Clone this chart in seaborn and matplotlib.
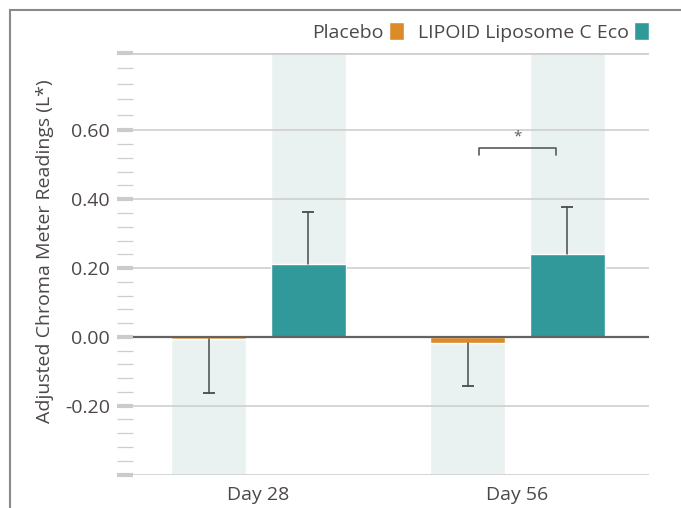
import pandas as pd
import numpy as np
import matplotlib
matplotlib.use("Agg")
import matplotlib.pyplot as plt
from matplotlib.patches import Rectangle
import seaborn as sns

# Données
days = ["Day 28", "Day 56"]
groups = ["Placebo", "LIPOID Liposome C Eco"]
placebo = [-0.007, -0.017]
lipoid = [0.212, 0.241]
placebo_err = [0.157, 0.125]
lipoid_err = [0.151, 0.136]

y_bottom = -0.40
y_top = 0.825
major_ticks = [-0.40, -0.20, 0.00, 0.20, 0.40, 0.60, y_top]
major_labels = ["", "-0.20", "0.00", "0.20", "0.40", "0.60", ""]

orange = "#DB8B29"
teal = "#32999A"
shade = "#EAF2F1"
text_col = "#4d4747"

sns.set_style("white")
plt.rcParams["font.family"] = ["Open Sans", "DejaVu Sans"]

df = pd.DataFrame({
    "day": days * 2,
    "group": [groups[0]] * 2 + [groups[1]] * 2,
    "value": placebo + lipoid,
})
# colonnes de fond (du zéro jusqu'au bord de l'axe)
df_bg = pd.DataFrame({
    "day": days * 2,
    "group": [groups[0]] * 2 + [groups[1]] * 2,
    "value": [y_bottom] * 2 + [y_top] * 2,
})

fig = plt.figure(figsize=(6.81, 5.08), dpi=100)
ax = fig.add_axes([133 / 681, 1 - 474.5 / 508, 516 / 681, 421.5 / 508])

### Fond ###
sns.barplot(data=df_bg, x="day", y="value", hue="group", hue_order=groups,
            palette=[shade, shade], saturation=1, width=0.77, gap=0.25,
            errorbar=None, legend=False, ax=ax, zorder=0.2)

# lignes de grille
for v in major_ticks:
    if v == 0:
        continue
    ax.axhline(v, color="#d0cece", lw=2 if v == y_top else 1.2, zorder=0.5)

### Barres ###
n_before = len(ax.containers)
sns.barplot(data=df, x="day", y="value", hue="group", hue_order=groups,
            palette=[orange, teal], saturation=1, width=0.77, gap=0.25,
            errorbar=None, ax=ax, zorder=2)

errs = [placebo_err, lipoid_err]
for cont, err in zip(ax.containers[n_before:], errs):
    for bar, e in zip(cont, err):
        x = bar.get_x() + bar.get_width() / 2
        y = bar.get_y() + bar.get_height()
        sign = 1 if y >= 0 else -1
        ax.plot([x, x], [y, y + sign * e], color="#4a4a4a", lw=1.1, zorder=3)
        ax.plot([x], [y + sign * e], marker="_", ms=8.5, mew=1.3,
                color="#4a4a4a", zorder=3)

ax.axhline(0, color="#666262", lw=1.6, zorder=4)

# crochet de significativité
bx0, bx1, by = 1 - 0.147, 1 + 0.147, 0.548
ax.plot([bx0, bx0, bx1, bx1], [by - 0.02, by, by, by - 0.02],
        color="#5a5a5a", lw=1.2, zorder=3)
ax.text(1, by + 0.012, "*", ha="center", va="bottom", fontsize=11, color="#5a5a5a")

### Axes ###
ax.set_xlim(-0.4846, 1.5077)
ax.set_ylim(y_bottom, y_top)
ax.set_yticks(major_ticks)
ax.set_yticklabels(major_labels)
minor = list(np.arange(-0.36, 0.6, 0.04)) + [0.6 + k * (y_top - 0.6) / 5 for k in range(1, 5)]
minor = [m for m in minor if all(abs(m - t) > 1e-6 for t in major_ticks)]
ax.set_yticks(minor, minor=True)
ax.tick_params(axis="y", which="major", length=11.5, width=3, color="#cccaca",
               labelsize=14, labelcolor=text_col, pad=5, left=True)
ax.tick_params(axis="y", which="minor", length=11.5, width=0.9, color="#cfcdcd", left=True)
for t, v in zip(ax.yaxis.get_major_ticks(), major_ticks):
    if v == 0:
        t.tick1line.set_color("#5e5858")
ax.tick_params(axis="x", length=0, labelsize=14, labelcolor=text_col, pad=8)
ax.set_xlabel("")
ax.set_ylabel("Adjusted Chroma Meter Readings (L*)", fontsize=14, color=text_col)
ax.yaxis.set_label_coords(-0.153, 0.53)
for s in ax.spines.values():
    s.set_visible(False)

sns.move_legend(ax, "center right", bbox_to_anchor=(1.0, 1.05), ncol=2, title=None,
                frameon=False, markerfirst=False, fontsize=14, handlelength=0.75,
                handleheight=1.0, handletextpad=0.3, columnspacing=0.7,
                borderaxespad=0, borderpad=0)
for t in ax.get_legend().get_texts():
    t.set_color(text_col)

# cadre
fig.patches.append(Rectangle((10 / 681, -1), 2, 1 + (1 - 10 / 508), transform=fig.transFigure,
                             fill=False, edgecolor="#8a8a8a", lw=1.5))

fig.savefig("out.png", dpi=100)
